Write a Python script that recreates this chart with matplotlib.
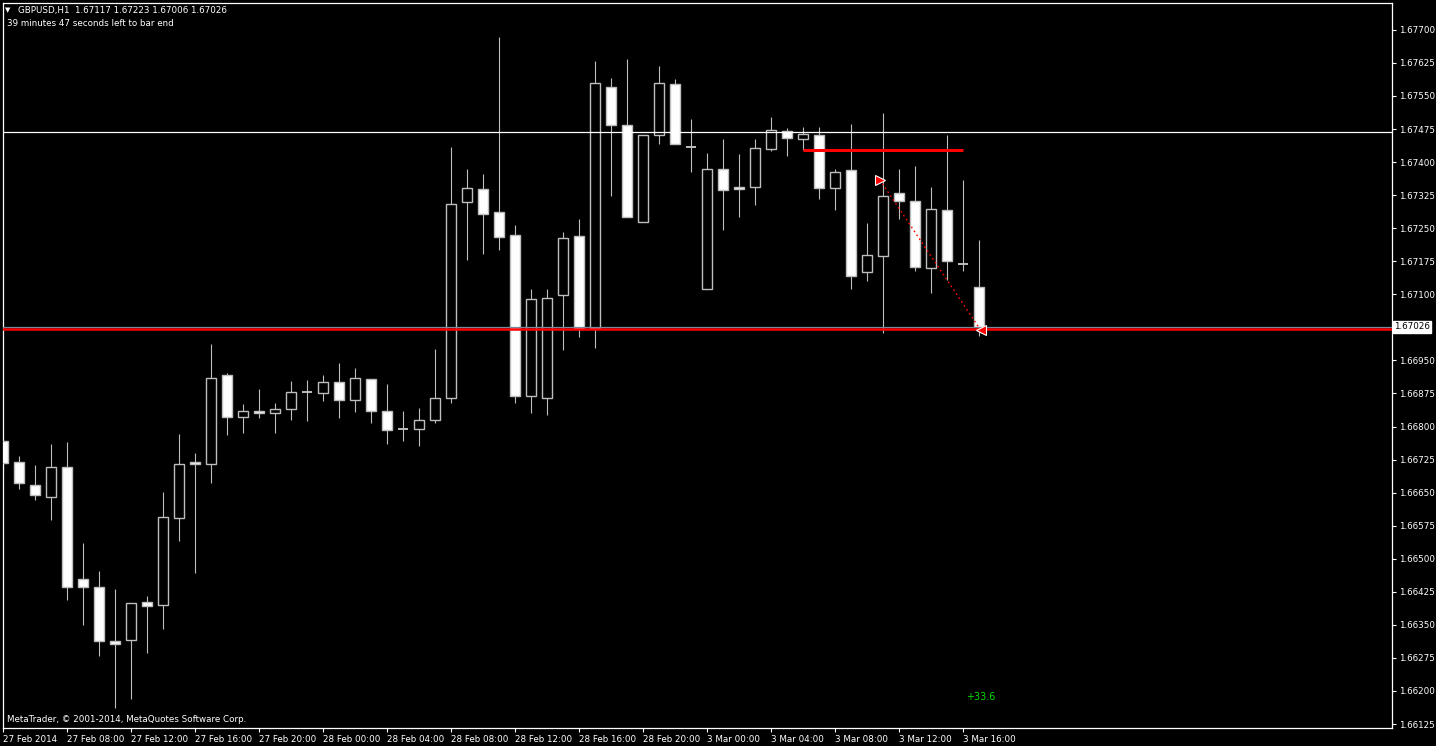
import matplotlib.pyplot as plt
from matplotlib.patches import Rectangle

W, H = 1436, 746

# hourly bars, 27 Feb 2014 04:00 -> 3 Mar 2014 17:00 (weekend skipped)
opens = [1.66767, 1.66719, 1.66667, 1.66640, 1.66708, 1.66454, 1.66436, 1.66313,
         1.66315, 1.66402, 1.66395, 1.66592, 1.66719, 1.66715, 1.66917, 1.66822,
         1.66835, 1.66831, 1.66840, 1.66878, 1.66876, 1.66901, 1.66860, 1.66908,
         1.66835, 1.66794, 1.66794, 1.66815, 1.66865, 1.67310, 1.67339, 1.67287,
         1.67235, 1.66869, 1.66865, 1.67098, 1.67232, 1.67024, 1.67571, 1.67484,
         1.67264, 1.67462, 1.67577, 1.67434, 1.67112, 1.67384, 1.67344, 1.67344,
         1.67430, 1.67471, 1.67453, 1.67462, 1.67341, 1.67382, 1.67151, 1.67187,
         1.67330, 1.67312, 1.67160, 1.67291, 1.67169, 1.67117]
highs = [1.66772, 1.66733, 1.66713, 1.66760, 1.66765, 1.66536, 1.66472, 1.66431,
         1.66400, 1.66415, 1.66651, 1.66783, 1.66740, 1.66987, 1.66921, 1.66851,
         1.66885, 1.66853, 1.66903, 1.66906, 1.66917, 1.66944, 1.66933, 1.66908,
         1.66896, 1.66835, 1.66842, 1.66976, 1.67434, 1.67384, 1.67373, 1.67684,
         1.67257, 1.67112, 1.67112, 1.67241, 1.67271, 1.67630, 1.67591, 1.67634,
         1.67462, 1.67618, 1.67589, 1.67498, 1.67421, 1.67453, 1.67419, 1.67453,
         1.67503, 1.67478, 1.67480, 1.67480, 1.67384, 1.67487, 1.67262, 1.67512,
         1.67384, 1.67391, 1.67344, 1.67462, 1.67360, 1.67223]
lows = [1.66701, 1.66658, 1.66633, 1.66588, 1.66406, 1.66349, 1.66279, 1.66161,
        1.66181, 1.66286, 1.66340, 1.66540, 1.66467, 1.66672, 1.66781, 1.66785,
        1.66819, 1.66785, 1.66815, 1.66812, 1.66858, 1.66819, 1.66833, 1.66808,
        1.66760, 1.66767, 1.66756, 1.66808, 1.66853, 1.67178, 1.67192, 1.67201,
        1.66853, 1.66831, 1.66826, 1.66974, 1.67003, 1.66978, 1.67323, 1.67276,
        1.67264, 1.67441, 1.67441, 1.67378, 1.67112, 1.67246, 1.67276, 1.67303,
        1.67425, 1.67414, 1.67428, 1.67316, 1.67291, 1.67112, 1.67130, 1.67012,
        1.67271, 1.67153, 1.67103, 1.67133, 1.67153, 1.67006]
closes = [1.66717, 1.66672, 1.66644, 1.66708, 1.66436, 1.66436, 1.66313, 1.66306,
          1.66399, 1.66392, 1.66595, 1.66715, 1.66715, 1.66910, 1.66822, 1.66835,
          1.66831, 1.66840, 1.66878, 1.66878, 1.66901, 1.66860, 1.66910, 1.66835,
          1.66792, 1.66794, 1.66815, 1.66865, 1.67305, 1.67341, 1.67282, 1.67230,
          1.66869, 1.67089, 1.67092, 1.67228, 1.67021, 1.67580, 1.67484, 1.67276,
          1.67462, 1.67580, 1.67441, 1.67434, 1.67384, 1.67337, 1.67339, 1.67432,
          1.67473, 1.67455, 1.67464, 1.67341, 1.67378, 1.67142, 1.67189, 1.67323,
          1.67312, 1.67162, 1.67294, 1.67176, 1.67169, 1.67026]

time_labels = ['27 Feb 2014', '27 Feb 08:00', '27 Feb 12:00', '27 Feb 16:00',
               '27 Feb 20:00', '28 Feb 00:00', '28 Feb 04:00', '28 Feb 08:00',
               '28 Feb 12:00', '28 Feb 16:00', '28 Feb 20:00', '3 Mar 00:00',
               '3 Mar 04:00', '3 Mar 08:00', '3 Mar 12:00', '3 Mar 16:00']
price_ticks = [1.66125, 1.66200, 1.66275, 1.66350, 1.66425, 1.66500, 1.66575,
               1.66650, 1.66725, 1.66800, 1.66875, 1.66950, 1.67100, 1.67175,
               1.67250, 1.67325, 1.67400, 1.67475, 1.67550, 1.67625, 1.67700]

bid = 1.67026
white_level = 1.67468
red_level = 1.67021
short_level = 1.67428          # drawn from bar 50 to bar 60
trade_bars = [54.8, 61.1]
trade_prices = [1.67360, 1.67019]
profit_text = '+33.6'

GRAY = '#bdbdbd'
FS = 6.3

fig = plt.figure(figsize=(W / 100, H / 100), dpi=100, facecolor='black')
ax = fig.add_axes([3 / W, 18 / H, 1389 / W, 725 / H], facecolor='black')

n = len(opens)
for i in range(n):
    o, h, l, c = opens[i], highs[i], lows[i], closes[i]
    ax.vlines(i, l, h, color=GRAY, lw=0.8, zorder=2)
    if o == c:
        ax.hlines(o, i - 0.33, i + 0.33, color=GRAY, lw=1.4, zorder=3)
        continue
    face = 'white' if c < o else 'black'
    ax.add_patch(Rectangle((i - 0.31, min(o, c)), 0.62, abs(o - c),
                           facecolor=face, edgecolor=GRAY, lw=1.0, zorder=3))

# horizontal lines
ax.axhline(white_level, color='white', lw=0.9, zorder=4)
ax.axhline(bid, color='#778899', lw=0.9, zorder=4)
ax.axhline(red_level, color='red', lw=1.8, zorder=4)
ax.hlines(short_level, 50, 60, color='red', lw=2.2, zorder=4)

# closed trade
ax.plot(trade_bars, trade_prices, color='red', lw=1.0, ls=(0, (1.2, 2.2)), zorder=5)
ax.plot(trade_bars[0], trade_prices[0], marker='>', ms=6.5, color='red',
        mec='white', mew=0.8, zorder=6)
ax.plot(trade_bars[1], trade_prices[1], marker='<', ms=6.5, color='red',
        mec='white', mew=0.8, zorder=6)

ax.set_xlim(0, 1389 / 16)
ax.set_ylim(1.66116, 1.67761)

ax.set_xticks(range(0, 61, 4))
ax.set_xticklabels(time_labels, ha='left')
ax.yaxis.tick_right()
ax.set_yticks(price_ticks)
ax.set_yticklabels([f'{v:.5f}' for v in price_ticks])
ax.tick_params(colors='white', length=3, width=0.8, labelsize=FS, pad=2)
for s in ax.spines.values():
    s.set_color('white')
    s.set_linewidth(0.9)

# current price label
ax.text(1.0015, bid, f'{bid:.5f}', transform=ax.get_yaxis_transform(),
        fontsize=FS, color='black', va='center', ha='left',
        bbox=dict(boxstyle='square,pad=0.15', fc='white', ec='white'))

fig.text(5 / W, 1 - 10 / H, '▼', color='white', fontsize=5, va='center')
fig.text(18 / W, 1 - 10 / H, 'GBPUSD,H1  1.67117 1.67223 1.67006 1.67026',
         color='white', fontsize=FS, va='center')
fig.text(7 / W, 1 - 23 / H, '39 minutes 47 seconds left to bar end',
         color='white', fontsize=FS, va='center')
fig.text(7 / W, 1 - 720 / H, 'MetaTrader, © 2001-2014, MetaQuotes Software Corp.',
         color='white', fontsize=FS, va='center')
fig.text(966 / W, 1 - 697 / H, profit_text, color='#00dd00', fontsize=7,
         va='center')

fig.savefig('out.png', dpi=100, facecolor='black')
